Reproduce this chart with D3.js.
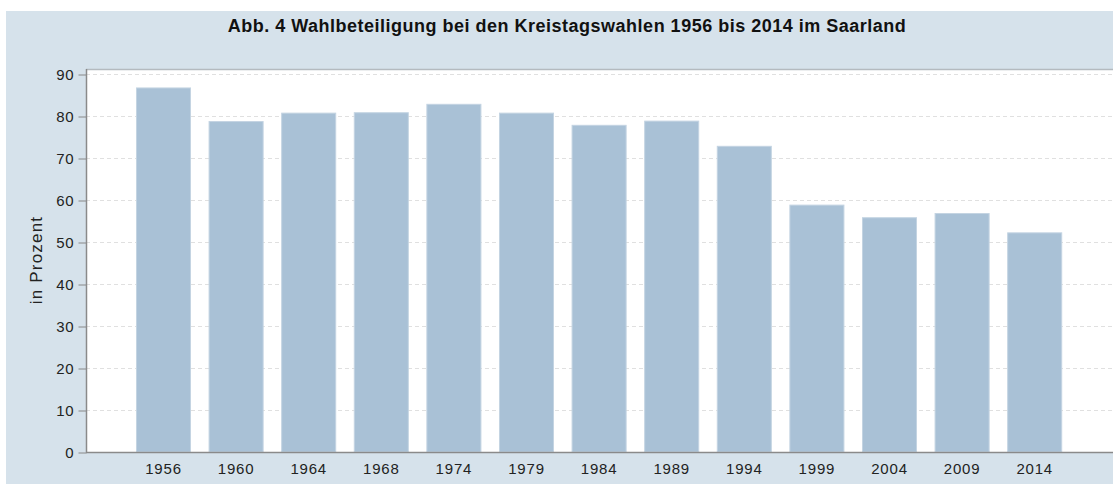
<!DOCTYPE html>
<html>
<head>
<meta charset="utf-8">
<script src="https://cdn.jsdelivr.net/npm/d3@7"></script>
<style>
  body { margin: 0; background: #fff; }
  text { font-family: "Liberation Sans", Arial, sans-serif; }
</style>
</head>
<body>
<div id="chart"></div>
<script>
// data
var years = ["1956", "1960", "1964", "1968", "1974", "1979", "1984", "1989", "1994", "1999", "2004", "2009", "2014"];
var turnout = [86.8, 78.8, 80.8, 80.9, 82.9, 80.8, 77.9, 78.9, 72.9, 58.9, 55.9, 56.9, 52.3];
var yTicks = [0, 10, 20, 30, 40, 50, 60, 70, 80, 90];

var svgWidth = 1113;
var svgHeight = 484;

var svg = d3.select("#chart")
  .append("svg")
  .attr("width", svgWidth)
  .attr("height", svgHeight);

// light blue panel
svg.append("rect")
  .attr("x", 6)
  .attr("y", 11)
  .attr("width", svgWidth - 6)
  .attr("height", svgHeight - 11)
  .attr("fill", "#d6e2eb");

// plot area
var plot = { left: 86, top: 69, right: 1113, bottom: 452 };

svg.append("rect")
  .attr("x", plot.left)
  .attr("y", plot.top)
  .attr("width", plot.right - plot.left)
  .attr("height", plot.bottom - plot.top)
  .attr("fill", "#fff");

var xScale = d3.scaleBand()
  .domain(years)
  .range([127.2, 127.2 + 13 * 72.6])
  .paddingInner(0.242)
  .paddingOuter(0.121);

var yScale = d3.scaleLinear()
  .domain([0, 90])
  .range([plot.bottom, 74]);

// grid lines
svg.append("g")
  .selectAll("line")
  .data(yTicks.filter(d => d > 0))
  .enter()
  .append("line")
  .attr("x1", plot.left)
  .attr("x2", plot.right)
  .attr("y1", d => Math.round(yScale(d)) + 0.5)
  .attr("y2", d => Math.round(yScale(d)) + 0.5)
  .attr("stroke", "#e0e0e0")
  .attr("stroke-dasharray", "4,3");

// bars
svg.append("g")
  .selectAll("rect")
  .data(turnout)
  .enter()
  .append("rect")
  .attr("x", (d, i) => xScale(years[i]) + 0.5)
  .attr("y", d => yScale(d) + 0.5)
  .attr("width", xScale.bandwidth() - 1)
  .attr("height", d => plot.bottom - yScale(d) - 0.5)
  .attr("fill", "#a9c1d6")
  .attr("stroke", "#c4d4e2")
  .attr("stroke-width", 1);

// top border
svg.append("line")
  .attr("x1", plot.left)
  .attr("x2", plot.right)
  .attr("y1", plot.top + 0.5)
  .attr("y2", plot.top + 0.5)
  .attr("stroke", "#b4babf")
  .attr("stroke-width", 1.5);

// y axis
var leftAxis = d3.axisLeft(yScale)
  .tickValues(yTicks)
  .tickSize(8)
  .tickPadding(4);

var yAxisG = svg.append("g")
  .attr("transform", `translate(${plot.left + 0.5}, 0.5)`)
  .call(leftAxis);
yAxisG.select(".domain").remove();
yAxisG.selectAll("line").attr("stroke", "#888");
yAxisG.selectAll("text")
  .attr("font-size", "15px")
  .attr("letter-spacing", "0.8px")
  .attr("fill", "#222");

svg.append("line")
  .attr("x1", plot.left + 0.5)
  .attr("x2", plot.left + 0.5)
  .attr("y1", plot.top)
  .attr("y2", plot.bottom + 1)
  .attr("stroke", "#8a8a8a")
  .attr("stroke-width", 1.5);

// x axis
var bottomAxis = d3.axisBottom(xScale)
  .tickSize(0)
  .tickPadding(11);

var xAxisG = svg.append("g")
  .attr("transform", `translate(0, ${plot.bottom})`)
  .call(bottomAxis);
xAxisG.select(".domain").remove();
xAxisG.selectAll("text")
  .attr("font-size", "15px")
  .attr("letter-spacing", "0.8px")
  .attr("fill", "#222");

svg.append("line")
  .attr("x1", plot.left)
  .attr("x2", plot.right)
  .attr("y1", plot.bottom + 0.5)
  .attr("y2", plot.bottom + 0.5)
  .attr("stroke", "#8a8a8a")
  .attr("stroke-width", 1.5);

// y label
svg.append("text")
  .attr("transform", "translate(42, 260) rotate(-90)")
  .attr("text-anchor", "middle")
  .attr("font-size", "17px")
  .attr("letter-spacing", "1.2px")
  .attr("fill", "#222")
  .text("in Prozent");

// title
svg.append("text")
  .attr("x", 567)
  .attr("y", 32)
  .attr("text-anchor", "middle")
  .attr("font-size", "18px")
  .attr("font-weight", "bold")
  .attr("letter-spacing", "0.5px")
  .attr("fill", "#111")
  .text("Abb. 4 Wahlbeteiligung bei den Kreistagswahlen 1956 bis 2014 im Saarland");
</script>
</body>
</html>
